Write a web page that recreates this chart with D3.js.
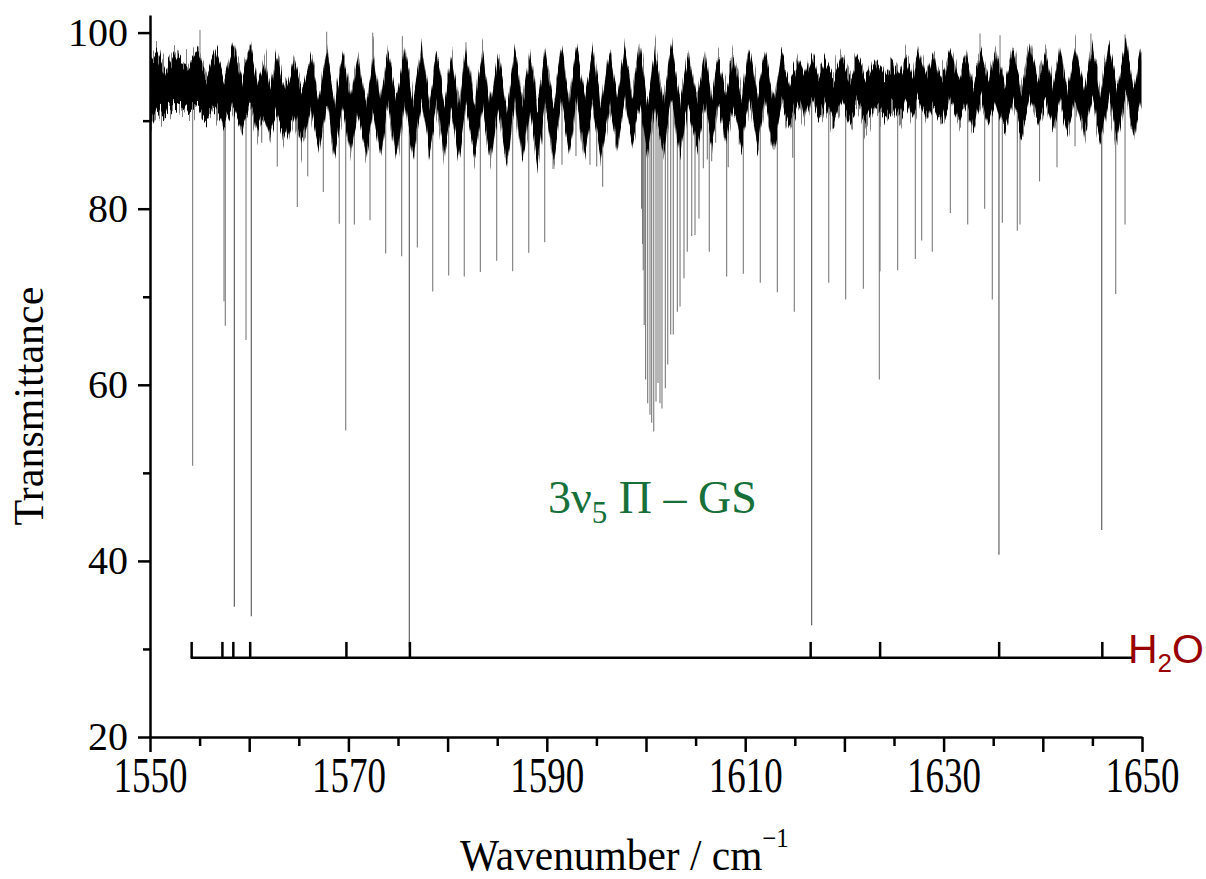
<!DOCTYPE html>
<html>
<head>
<meta charset="utf-8">
<title>3v5 band transmittance</title>
<script src="https://cdn.jsdelivr.net/npm/d3@7"></script>
<style>
  body { margin: 0; background: #fff; }
  text { font-family: "Liberation Serif", "Times New Roman", serif; }
</style>
</head>
<body>
<script>
// baseline band: alternating fringe peak / trough positions, top and bottom of the noisy band
var fringeWn = [1550.0, 1550.68, 1551.6, 1552.52, 1553.7, 1554.87, 1555.76, 1556.65, 1557.52, 1558.40,
  1559.27, 1560.15, 1560.87, 1561.59, 1562.18, 1562.77, 1563.65, 1564.52, 1565.37, 1566.23,
  1567.02, 1567.81, 1568.65, 1569.49, 1570.25, 1571.00, 1571.75, 1572.51, 1573.27, 1574.02,
  1574.86, 1575.71, 1576.55, 1577.39, 1578.15, 1578.90, 1579.65, 1580.41, 1581.13, 1581.85,
  1582.70, 1583.54, 1584.32, 1585.11, 1585.95, 1586.79, 1587.55, 1588.31, 1589.06, 1589.82,
  1590.66, 1591.50, 1592.25, 1593.01, 1593.82, 1594.63, 1595.46, 1596.30, 1597.09, 1597.88,
  1598.64, 1599.40, 1600.15, 1600.91, 1601.75, 1602.59, 1603.42, 1604.26, 1605.10, 1605.95,
  1606.62, 1607.29, 1608.05, 1608.80, 1609.64, 1610.48, 1611.24, 1612.00, 1612.84, 1613.68,
  1614.52, 1615.35, 1616.03, 1616.70, 1617.38, 1618.05, 1618.89, 1619.73, 1620.57, 1621.40,
  1622.24, 1623.08, 1624.00, 1624.90, 1625.55, 1626.20, 1626.85, 1627.49, 1628.25, 1629.02,
  1629.88, 1630.73, 1631.50, 1632.26, 1633.02, 1633.77, 1634.52, 1635.28, 1636.14, 1637.00,
  1637.85, 1638.71, 1639.52, 1640.32, 1641.02, 1641.73, 1642.52, 1643.31, 1644.16, 1645.01,
  1645.82, 1646.64, 1647.50, 1648.35, 1649.15, 1649.94]
var fringeHi = [96.5, 98.0, 95.5, 97.6, 95.8, 97.8, 95.0, 98.0, 94.5, 98.8,
  94.8, 98.4, 94.0, 97.0, 93.5, 97.6, 93.3, 97.3, 93.0, 97.6,
  92.5, 98.2, 92.0, 97.6, 92.5, 97.1, 92.0, 97.3, 92.0, 97.8,
  91.8, 98.2, 92.0, 98.5, 91.8, 97.6, 91.5, 97.3, 91.5, 98.0,
  91.8, 98.2, 91.5, 97.8, 91.2, 98.0, 92.0, 97.8, 91.5, 98.0,
  91.5, 98.2, 92.5, 98.5, 92.5, 98.2, 92.0, 98.0, 92.5, 98.2,
  93.0, 98.5, 92.0, 98.2, 92.0, 98.8, 92.2, 97.8, 92.5, 97.3,
  92.8, 97.3, 93.0, 97.6, 92.8, 97.8, 92.5, 97.6, 92.2, 97.4,
  94.0, 97.0, 94.5, 97.3, 94.8, 97.1, 94.5, 97.4, 94.8, 97.3,
  94.8, 97.0, 95.0, 96.8, 95.0, 97.3, 94.8, 97.9, 94.6, 97.6,
  94.4, 97.8, 94.6, 97.6, 94.0, 97.8, 94.3, 98.2, 94.0, 98.2,
  93.5, 98.5, 94.3, 97.8, 94.0, 98.2, 93.5, 98.5, 93.3, 98.7,
  93.0, 99.0, 93.0, 99.2, 93.0, 98.5]
var fringeLo = [89.5, 91.5, 90.8, 91.8, 91.0, 91.6, 90.3, 91.5, 89.5, 92.0,
  89.0, 91.8, 88.8, 91.0, 88.3, 91.2, 87.7, 91.2, 87.3, 91.5,
  86.8, 92.0, 86.3, 91.5, 86.3, 91.0, 86.1, 91.5, 85.8, 91.8,
  85.3, 92.0, 85.8, 92.2, 86.1, 91.5, 85.8, 91.2, 85.6, 91.8,
  85.8, 92.0, 85.3, 91.5, 85.1, 91.8, 85.8, 91.5, 84.8, 92.0,
  85.1, 92.2, 86.8, 92.2, 86.3, 92.0, 85.8, 92.0, 86.8, 92.2,
  87.7, 92.0, 86.3, 92.0, 86.3, 92.5, 86.3, 92.0, 86.8, 91.8,
  87.3, 92.0, 87.7, 92.0, 87.3, 92.2, 86.8, 92.0, 86.5, 92.0,
  89.3, 92.2, 89.8, 92.5, 90.2, 92.2, 89.7, 92.5, 90.0, 92.3,
  89.7, 92.0, 90.2, 92.0, 90.4, 92.2, 90.2, 92.5, 89.9, 92.2,
  89.6, 92.5, 89.9, 92.2, 89.3, 92.5, 89.3, 92.5, 89.0, 92.5,
  88.5, 92.8, 89.5, 92.5, 89.2, 92.5, 88.8, 92.5, 88.5, 92.8,
  87.8, 93.0, 87.5, 93.0, 87.8, 92.5]

// absorption lines: position and minimum transmittance
var lineWn = [1550.05, 1554.30, 1557.46, 1557.59, 1558.50, 1559.68, 1560.21, 1561.26, 1562.83, 1564.85,
  1565.90, 1567.47, 1569.08, 1569.73, 1570.60, 1572.18, 1573.76, 1575.37, 1576.14, 1576.95,
  1578.50, 1580.11, 1581.68, 1583.30, 1584.95, 1586.56, 1588.18, 1589.79, 1590.63, 1591.53,
  1592.94, 1593.68, 1594.35, 1595.03, 1595.63, 1599.55, 1599.65, 1599.72, 1599.82, 1599.96,
  1600.17, 1600.40, 1600.57, 1600.78, 1601.01, 1601.21, 1601.41, 1601.61, 1601.95, 1602.19,
  1602.49, 1602.75, 1603.16, 1603.43, 1603.83, 1604.16, 1604.61, 1604.94, 1605.34, 1605.78,
  1606.18, 1606.38, 1606.62, 1607.02, 1608.13, 1608.29, 1609.40, 1609.81, 1611.16, 1611.52,
  1612.90, 1613.24, 1614.79, 1614.95, 1616.70, 1618.42, 1620.13, 1621.91, 1623.52, 1623.59,
  1625.37, 1627.15, 1627.79, 1628.86, 1630.68, 1632.43, 1634.14, 1634.91, 1635.58, 1635.92,
  1637.43, 1637.70, 1639.67, 1641.43, 1643.25, 1645.94, 1647.35, 1648.29]
var lineMin = [77.6, 50.8, 69.5, 66.7, 34.8, 65.1, 33.7, 87.5, 84.8, 80.2,
  83.7, 81.9, 78.3, 54.8, 78.2, 78.7, 74.9, 74.6, 30.2, 75.6,
  70.6, 72.4, 72.3, 72.8, 74.1, 72.9, 75.0, 76.2, 84.5, 85.0,
  86.0, 87.5, 85.0, 84.8, 82.5, 80.0, 76.0, 73.0, 66.8, 60.6,
  57.9, 56.6, 55.7, 54.7, 58.1, 60.2, 57.9, 57.3, 59.6, 62.3,
  65.7, 65.7, 68.3, 68.9, 72.1, 75.1, 76.9, 77.0, 78.9, 84.6,
  85.6, 75.1, 85.4, 87.5, 72.3, 84.7, 87.3, 72.6, 87.7, 71.6,
  86.7, 70.5, 85.8, 68.3, 32.7, 71.6, 69.7, 70.9, 60.6, 72.9,
  73.0, 74.3, 76.4, 75.1, 79.5, 78.2, 80.0, 69.7, 40.7, 78.4,
  77.5, 78.2, 83.1, 84.7, 87.1, 43.5, 70.3, 78.2]

// upward noise spikes
var spikeWn = [1555.04, 1567.81, 1572.45, 1575.44, 1581.85, 1633.67, 1635.69, 1644.85, 1648.29]
var spikeMax = [100.3, 100.1, 100.0, 99.6, 98.9, 99.9, 99.7, 99.9, 99.8]

// H2O stick assignment
var h2oWn = [1554.2, 1557.3, 1558.4, 1560.1, 1569.8, 1576.2, 1616.6, 1623.6, 1635.6, 1646.0]
var h2oSpan = [1554.1, 1649.2]
var h2oBase = 29.0, h2oTop = 30.8

var xLabelTicks = [1550, 1570, 1590, 1610, 1630, 1650]
var xMajorTicks = [1550, 1560, 1570, 1580, 1590, 1600, 1610, 1620, 1630, 1640, 1650]
var xMinorTicks = [1555, 1565, 1575, 1585, 1595, 1605, 1615, 1625, 1635, 1645]
var yLabelTicks = [20, 40, 60, 80, 100]
var yMinorTicks = [30, 50, 70, 90]

var width = 1206, height = 879

var svg = d3.select('body').append('svg')
    .attr('width', width)
    .attr('height', height)

var x = d3.scaleLinear().domain([1550, 1650]).range([150, 1142])
var y = d3.scaleLinear().domain([20, 102]).range([737, 15])

// filters that roughen the band edges into vertical hairs (noise look)
var defs = svg.append('defs')
function hairFilter(id, seed, freq, amount) {
    var f = defs.append('filter').attr('id', id)
        .attr('x', '-2%').attr('y', '-60%').attr('width', '104%').attr('height', '220%')
    f.append('feTurbulence').attr('type', 'fractalNoise')
        .attr('baseFrequency', freq).attr('numOctaves', 2).attr('seed', seed).attr('result', 'n')
    f.append('feColorMatrix').attr('in', 'n').attr('type', 'matrix')
        .attr('values', '0 0 0 0 0.5  0 1 0 0 0  0 0 0 0 0  0 0 0 0 1').attr('result', 'm')
    f.append('feDisplacementMap').attr('in', 'SourceGraphic').attr('in2', 'm')
        .attr('scale', amount).attr('xChannelSelector', 'R').attr('yChannelSelector', 'G')
}
hairFilter('hairs', 3, '0.7 0.004', 34)
hairFilter('hairsWide', 8, '0.9 0.004', 60)

var band = fringeWn.map(function (w, i) {
    return {wn: w, hi: fringeHi[i], lo: fringeLo[i]}
})

function bandMid(w) {
    var i = d3.bisector(function (d) { return d.wn }).left(band, w)
    if (i <= 0) return (band[0].hi + band[0].lo) / 2
    if (i >= band.length) return (band[band.length - 1].hi + band[band.length - 1].lo) / 2
    var a = band[i - 1], b = band[i], t = (w - a.wn) / (b.wn - a.wn)
    return ((a.hi + a.lo) / 2) * (1 - t) + ((b.hi + b.lo) / 2) * t
}

var plot = svg.append('g')

// absorption lines
plot.selectAll('line.abs')
    .data(lineWn.map(function (w, i) { return {wn: w, min: lineMin[i]} }))
    .enter().append('line')
    .attr('class', 'abs')
    .attr('x1', function (d) { return x(d.wn) })
    .attr('x2', function (d) { return x(d.wn) })
    .attr('y1', function (d) { return y(bandMid(d.wn)) })
    .attr('y2', function (d) { return y(d.min) })
    .attr('stroke', function (d) { return d.min < 45 ? '#555' : '#7a7a7a' })
    .attr('stroke-width', 1.1)

plot.selectAll('line.spike')
    .data(spikeWn.map(function (w, i) { return {wn: w, max: spikeMax[i]} }))
    .enter().append('line')
    .attr('class', 'spike')
    .attr('x1', function (d) { return x(d.wn) })
    .attr('x2', function (d) { return x(d.wn) })
    .attr('y1', function (d) { return y(bandMid(d.wn)) })
    .attr('y2', function (d) { return y(d.max) })
    .attr('stroke', '#777')
    .attr('stroke-width', 1)

// noisy baseline band
var area = d3.area()
    .x(function (d) { return x(d.wn) })
    .y0(function (d) { return y(d.lo) })
    .y1(function (d) { return y(d.hi) })

plot.append('path')
    .datum(band)
    .attr('d', area)
    .attr('fill', '#808080')
    .attr('filter', 'url(#hairsWide)')

plot.append('path')
    .datum(band)
    .attr('d', area)
    .attr('fill', '#000')
    .attr('filter', 'url(#hairs)')

// H2O stick markers
svg.append('line')
    .attr('x1', x(h2oSpan[0])).attr('x2', x(h2oSpan[1]))
    .attr('y1', y(h2oBase)).attr('y2', y(h2oBase))
    .attr('stroke', '#000').attr('stroke-width', 2.5)

svg.selectAll('line.h2o')
    .data(h2oWn)
    .enter().append('line')
    .attr('class', 'h2o')
    .attr('x1', function (d) { return x(d) })
    .attr('x2', function (d) { return x(d) })
    .attr('y1', y(h2oBase))
    .attr('y2', y(h2oTop))
    .attr('stroke', '#000')
    .attr('stroke-width', 2.5)

var h2o = svg.append('text')
    .attr('x', 1128).attr('y', 663)
    .attr('fill', '#990000')
    .style('font-family', '"Liberation Sans", Arial, sans-serif')
    .style('font-size', '41px')
h2o.append('tspan').text('H')
h2o.append('tspan').attr('dy', 9).style('font-size', '26px').text('2')
h2o.append('tspan').attr('dy', -9).text('O')

// band label
var lab = svg.append('text')
    .attr('x', 548).attr('y', 513)
    .attr('fill', '#17703a')
    .style('font-size', '46px')
lab.append('tspan').text('3\u03bd')
lab.append('tspan').attr('dy', 10).style('font-size', '31px').text('5')
lab.append('tspan').attr('dy', -10).text(' \u03a0 \u2013 GS')

// axes
var xAxis = svg.append('g')
    .attr('transform', 'translate(0,737)')
    .call(d3.axisBottom(x).tickValues(xMajorTicks).tickSize(15).tickSizeOuter(0)
        .tickPadding(9)
        .tickFormat(function (d) { return xLabelTicks.indexOf(d) >= 0 ? d : '' }))
svg.append('g')
    .attr('transform', 'translate(0,737)')
    .call(d3.axisBottom(x).tickValues(xMinorTicks).tickSize(9).tickFormat(''))
    .select('.domain').remove()

var yAxis = svg.append('g')
    .attr('transform', 'translate(150,0)')
    .call(d3.axisLeft(y).tickValues(yLabelTicks).tickSize(12).tickSizeOuter(0).tickPadding(10))
svg.append('g')
    .attr('transform', 'translate(150,0)')
    .call(d3.axisLeft(y).tickValues(yMinorTicks).tickSize(7).tickFormat(''))
    .select('.domain').remove()

svg.selectAll('.domain, .tick line')
    .attr('stroke', '#000')
    .attr('stroke-width', 2.5)
svg.selectAll('.tick text')
    .attr('fill', '#000')
    .style('font-family', '"Liberation Serif", "Times New Roman", serif')
// x tick labels are tall and narrow in the original
xAxis.selectAll('.tick text')
    .style('font-size', '50px')
    .attr('dy', '0.62em')
    .attr('transform', 'scale(0.74,1)')
yAxis.selectAll('.tick text').style('font-size', '40px')

// axis titles
var xt = svg.append('g')
    .attr('transform', 'translate(460,870) scale(0.92,1)')
    .append('text')
    .style('font-size', '45px')
xt.append('tspan').text('Wavenumber / cm')
xt.append('tspan').attr('dy', -23).style('font-size', '27px').text('\u22121')

svg.append('text')
    .attr('transform', 'translate(43,406) rotate(-90)')
    .attr('text-anchor', 'middle')
    .style('font-size', '42px')
    .text('Transmittance')
</script>
</body>
</html>
